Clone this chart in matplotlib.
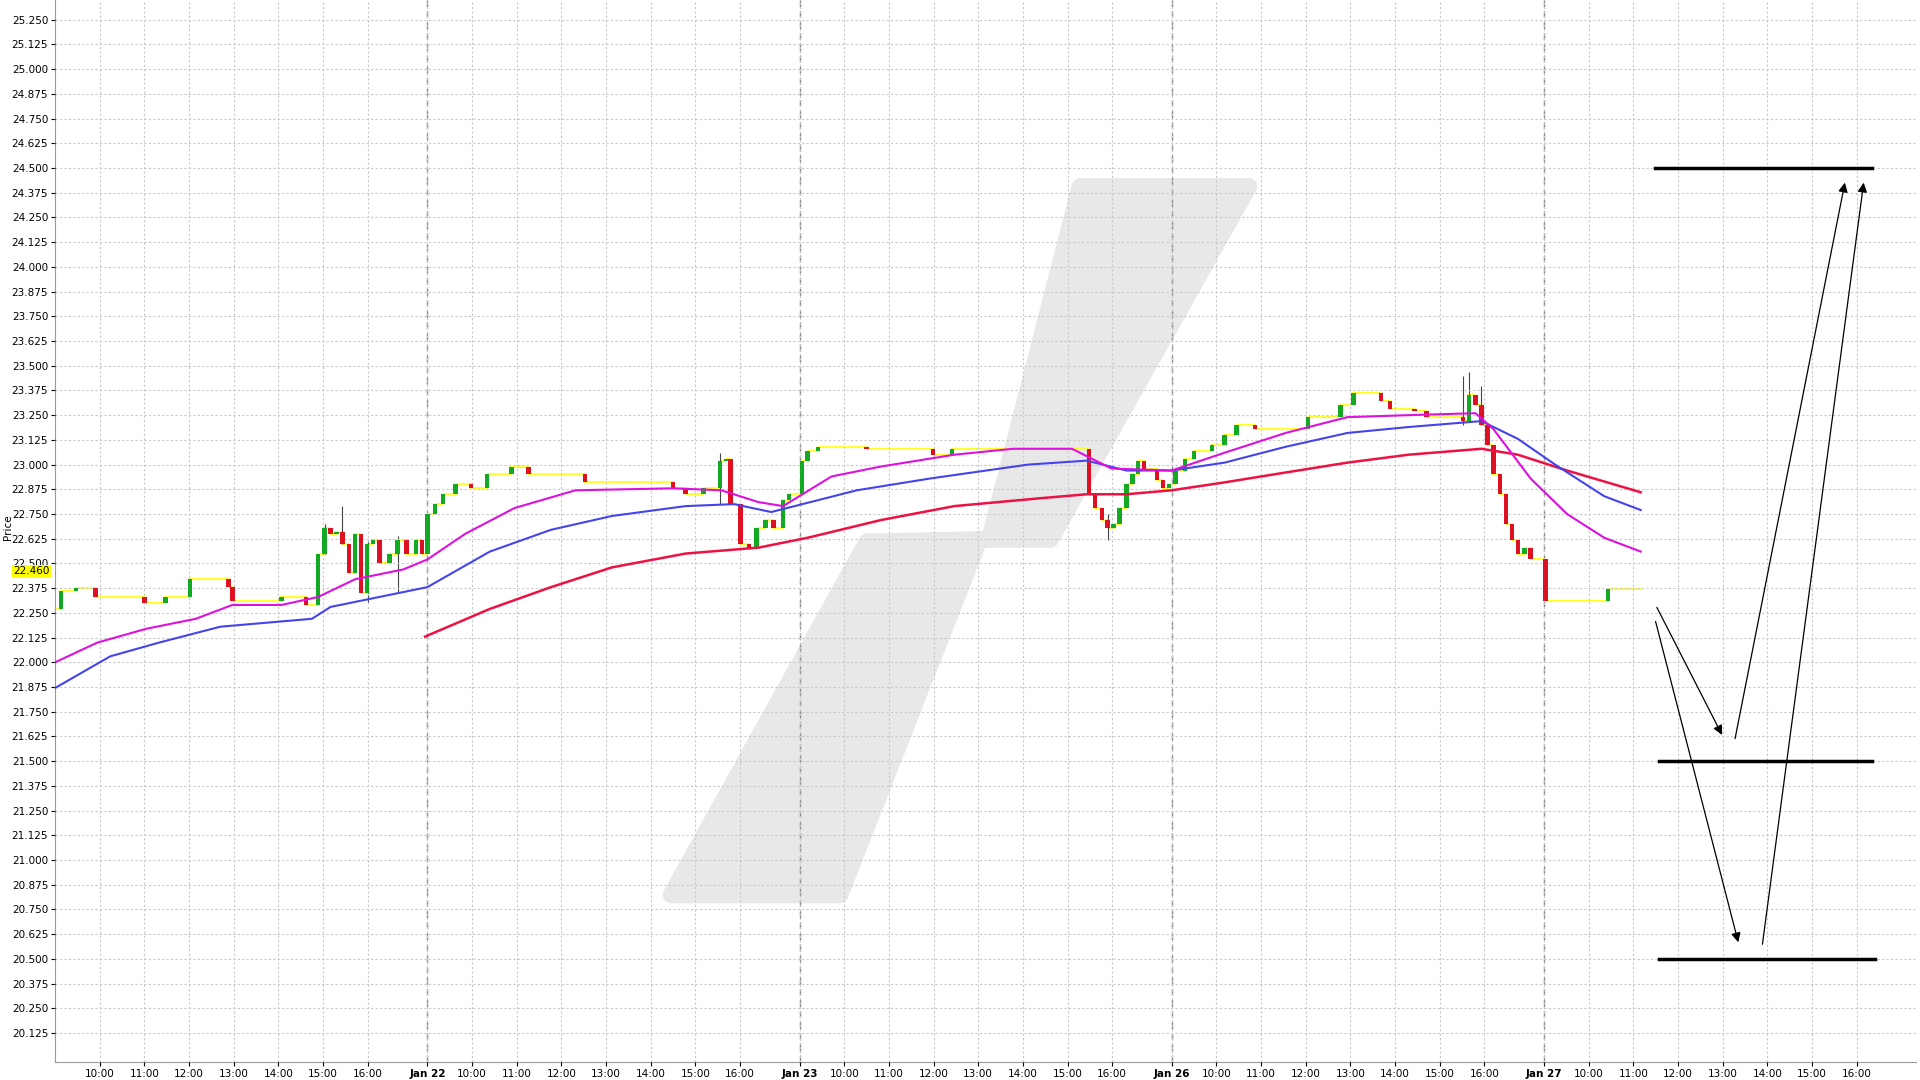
import matplotlib
matplotlib.use("Agg")
import matplotlib.pyplot as plt
from matplotlib.patches import Polygon
import numpy as np

# x is in session minutes: each day spans 500 units, 60 units per hour, day starts ~09:00
DAY_LABELS = ["Jan 22", "Jan 23", "Jan 26", "Jan 27"]
HOURS = [10, 11, 12, 13, 14, 15, 16]

# stepped price path (time, price)
PRICE_T = [0, 8, 28, 54, 120, 148, 181, 233, 238, 304, 337, 353, 362, 370, 378, 386, 395,
           403, 411, 419, 427, 436, 449, 460, 472, 485, 493,
           500, 510, 521, 538, 559, 580, 613, 636, 712, 830, 847, 871, 893, 901, 907, 921,
           932, 942, 954, 965, 978, 986, 995,
           1003, 1011, 1025, 1090, 1179, 1205, 1389, 1397, 1406, 1414, 1422, 1430, 1439,
           1447, 1455, 1463, 1480, 1488, 1496,
           1505, 1518, 1530, 1554, 1571, 1587, 1612, 1683, 1727, 1744, 1781, 1793, 1826,
           1842, 1891, 1899, 1908, 1916, 1924, 1932, 1941, 1949, 1957, 1965, 1974, 1982,
           2002, 2086, 2130]
PRICE_V = [22.27, 22.36, 22.375, 22.33, 22.30, 22.33, 22.42, 22.38, 22.31, 22.33, 22.29,
           22.55, 22.68, 22.65, 22.66, 22.60, 22.45, 22.65, 22.35, 22.60, 22.62, 22.50,
           22.55, 22.62, 22.55, 22.62, 22.55,
           22.75, 22.80, 22.85, 22.90, 22.88, 22.95, 22.99, 22.95, 22.91, 22.88, 22.85,
           22.88, 23.02, 23.03, 22.80, 22.60, 22.58, 22.68, 22.72, 22.68, 22.82, 22.85, 22.85,
           23.02, 23.07, 23.09, 23.08, 23.05, 23.08, 22.85, 22.78, 22.72, 22.68, 22.70,
           22.78, 22.90, 22.95, 23.02, 22.98, 22.92, 22.88, 22.90,
           22.97, 23.03, 23.07, 23.10, 23.15, 23.20, 23.18, 23.24, 23.30, 23.36, 23.32,
           23.28, 23.27, 23.24, 23.22, 23.35, 23.30, 23.20, 23.10, 22.95, 22.85, 22.70,
           22.62, 22.55, 22.58, 22.52,
           22.31, 22.37, 22.37]

# thin wicks (time, low, high)
WICK_T = [362, 386, 420, 460, 893, 1414, 1891, 1899, 1916]
WICK_LO = [22.55, 22.60, 22.30, 22.35, 22.80, 22.62, 23.20, 23.25, 23.20]
WICK_HI = [22.70, 22.79, 22.62, 22.64, 23.06, 22.75, 23.45, 23.47, 23.40]

MA_FAST_T = [0, 57, 123, 189, 238, 304, 353, 403, 468, 500, 551, 617, 699, 830, 895, 945,
             978, 1043, 1109, 1208, 1287, 1366, 1419, 1500, 1571, 1653, 1736, 1818, 1908,
             1932, 1982, 2031, 2081, 2130]
MA_FAST_V = [22.00, 22.10, 22.17, 22.22, 22.29, 22.29, 22.33, 22.42, 22.47, 22.52, 22.65,
             22.78, 22.87, 22.88, 22.87, 22.81, 22.79, 22.94, 22.99, 23.05, 23.08, 23.08,
             22.98, 22.97, 23.06, 23.16, 23.24, 23.25, 23.26, 23.18, 22.93, 22.75, 22.63, 22.56]
MA_MID_T = [0, 74, 140, 222, 345, 370, 500, 584, 666, 748, 847, 912, 962, 1077, 1176, 1307,
            1386, 1439, 1500, 1571, 1653, 1736, 1818, 1916, 1965, 2015, 2081, 2130]
MA_MID_V = [21.87, 22.03, 22.10, 22.18, 22.22, 22.28, 22.38, 22.56, 22.67, 22.74, 22.79,
            22.80, 22.76, 22.87, 22.93, 23.00, 23.02, 22.97, 22.97, 23.01, 23.09, 23.16,
            23.19, 23.22, 23.13, 23.00, 22.84, 22.77]
MA_SLOW_T = [497, 584, 666, 748, 847, 945, 1011, 1110, 1208, 1324, 1386, 1439, 1500, 1571,
             1653, 1736, 1818, 1916, 1965, 2031, 2130]
MA_SLOW_V = [22.13, 22.27, 22.38, 22.48, 22.55, 22.58, 22.63, 22.72, 22.79, 22.83, 22.85,
             22.85, 22.87, 22.91, 22.96, 23.01, 23.05, 23.08, 23.05, 22.97, 22.86]

# drawn target levels (y, x0, x1) and arrows (x0, y0, x1, y1)
LEVEL_Y = [24.50, 21.50, 20.50]
LEVEL_X0 = [2149, 2154, 2154]
LEVEL_X1 = [2441, 2441, 2445]
ARROW_X0 = [2150, 2256, 2149, 2293]
ARROW_Y0 = [22.29, 21.60, 22.22, 20.56]
ARROW_X1 = [2241, 2405, 2262, 2430]
ARROW_Y1 = [21.62, 24.44, 20.57, 24.44]

LAST_PRICE = 22.460

plt.rcParams.update({"font.family": "DejaVu Sans", "font.size": 8})

fig = plt.figure(figsize=(19.2, 10.8), dpi=100)
ax = fig.add_axes([0.0287, 0.017, 0.9693, 0.983])
ax.set_xlim(0, 2500)
ax.set_ylim(19.98, 25.35)

# watermark (figure-relative shape drawn behind the data)
wm = [(548, 730), (708, 442), (808, 440), (882, 152), (1020, 152), (858, 440), (800, 440), (686, 730)]
wm = [(x / 1568, 1 - y / 881) for x, y in wm]
ax.add_patch(Polygon(wm, closed=True, transform=fig.transFigure, facecolor="#e8e8e8",
                     edgecolor="#e8e8e8", linewidth=12, joinstyle="round", zorder=0.5))

# grid
yt = np.arange(20.125, 25.26, 0.125)
ax.set_yticks(yt)
ax.set_yticklabels([f"{v:.3f}" for v in yt])
xt, xl = [], []
for d in range(5):
    if d > 0:
        xt.append(d * 500)
        xl.append(DAY_LABELS[d - 1])
    for h in HOURS:
        xt.append(d * 500 + (h - 9) * 60)
        xl.append(f"{h}:00")
ax.set_xticks(xt)
ax.set_xticklabels(xl)
for lab in ax.get_xticklabels():
    if lab.get_text().startswith("Jan"):
        lab.set_fontweight("bold")
ax.set_axisbelow(False)
ax.grid(True, color="#c8c8c8", linestyle=(0, (2, 2)), linewidth=0.8, zorder=1)
for d in range(1, 5):
    ax.axvline(d * 500, color="#888888", linestyle=(0, (5, 3)), linewidth=1.0, zorder=1)
ax.tick_params(length=3, labelsize=7.5, pad=2)
for s in ["top", "right"]:
    ax.spines[s].set_visible(False)
ax.spines["left"].set_color("#999999")
ax.spines["bottom"].set_color("#999999")
fig.text(0.004, 1 - 430 / 881, "Price", rotation=90, ha="center", va="center", fontsize=7.5)

# price path
for i in range(len(PRICE_T) - 1):
    ax.plot([PRICE_T[i], PRICE_T[i + 1]], [PRICE_V[i], PRICE_V[i]], color="#ffff33",
            linewidth=1.5, zorder=2)
    v0, v1 = PRICE_V[i], PRICE_V[i + 1]
    if v1 != v0:
        c = "#11aa22" if v1 > v0 else "#dd1122"
        ax.bar(PRICE_T[i + 1], v1 - v0, bottom=v0, width=6, color=c, zorder=3)
ax.vlines(WICK_T, WICK_LO, WICK_HI, color="#444444", linewidth=0.8, zorder=2.5)

ax.plot(MA_SLOW_T, MA_SLOW_V, color="#ee1144", linewidth=1.8, zorder=4)
ax.plot(MA_MID_T, MA_MID_V, color="#4444ee", linewidth=1.5, zorder=4)
ax.plot(MA_FAST_T, MA_FAST_V, color="#dd11dd", linewidth=1.5, zorder=4)

for y, x0, x1 in zip(LEVEL_Y, LEVEL_X0, LEVEL_X1):
    ax.plot([x0, x1], [y, y], color="black", linewidth=2.5, zorder=5)
for x0, y0, x1, y1 in zip(ARROW_X0, ARROW_Y0, ARROW_X1, ARROW_Y1):
    ax.annotate("", xy=(x1, y1), xytext=(x0, y0),
                arrowprops=dict(arrowstyle="-|>", color="black", lw=0.9, mutation_scale=14))

ax.text(-0.003, LAST_PRICE, f"{LAST_PRICE:.3f}", transform=ax.get_yaxis_transform(),
        ha="right", va="center", fontsize=7.5, bbox=dict(facecolor="#ffff00", edgecolor="none", pad=1))

fig.savefig("out.png", dpi=100)
